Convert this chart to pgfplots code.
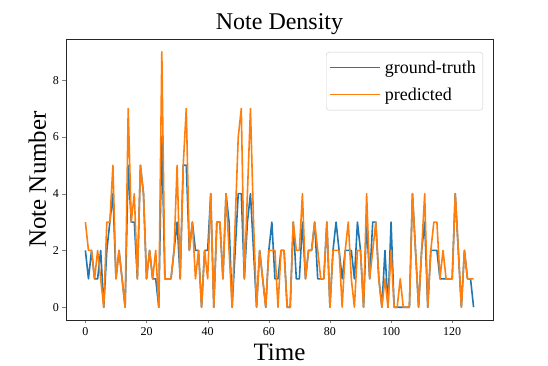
\documentclass[border=0pt]{standalone}
\usepackage{pgfplots}
\pgfplotsset{compat=1.18}
\usepackage{pgfplotstable}
\usepackage{fontspec}
\setmainfont{Liberation Serif}
\usetikzlibrary{calc}
\definecolor{mplblue}{HTML}{1F77B4}
\definecolor{mplorange}{HTML}{FF7F0E}

% note density per time step
\pgfplotstableread{
t gt pred
0 2 3
1 1 2
2 2 2
3 1 1
4 1 2
5 2 1
6 0 0
7 2 3
8 3 3
9 4 5
10 1 1
11 2 2
12 1 1
13 0 0
14 5 7
15 3 3
16 3 4
17 1 1
18 5 5
19 4 4
20 1 1
21 2 2
22 1 1
23 1 2
24 0 0
25 6 9
26 1 1
27 1 1
28 1 1
29 2 2
30 3 5
31 1 1
32 5 5
33 5 7
34 2 2
35 3 3
36 2 1
37 2 2
38 0 0
39 2 2
40 2 1
41 4 4
42 0 0
43 3 3
44 3 3
45 1 1
46 4 4
47 3 2
48 0 0
49 2 3
50 4 6
51 4 7
52 1 1
53 3 4
54 4 7
55 2 3
56 0 0
57 2 2
58 1 1
59 0 0
60 2 2
61 3 2
62 1 2
63 1 0
64 2 2
65 2 2
66 0 0
67 0 0
68 3 3
69 1 2
70 1 2
71 3 4
72 1 1
73 2 2
74 2 2
75 3 3
76 1 2
77 1 1
78 1 1
79 3 3
80 0 0
81 2 2
82 3 2
83 2 2
84 1 0
85 2 2
86 2 3
87 2 1
88 1 0
89 3 2
90 2 2
91 0 0
92 3 4
93 1 1
94 3 2
95 3 3
96 1 1
97 0 0
98 2 1
99 0 0
100 3 2
101 0 0
102 0 0
103 0 1
104 0 0
105 0 0
106 0 0
107 4 4
108 2 2
109 0 0
110 2 2
111 3 4
112 0 0
113 2 2
114 2 3
115 2 3
116 1 1
117 1 2
118 1 1
119 1 1
120 1 1
121 4 4
122 2 2
123 0 0
124 2 2
125 1 1
126 1 1
127 0 1
}\notes

\begin{document}
\begin{tikzpicture}
\begin{axis}[
    name=ax,
    scale only axis,
    width=427pt,
    height=281pt,
    xmin=-6.35, xmax=133.35,
    ymin=-0.45, ymax=9.45,
    xtick={0,20,...,120},
    ytick={0,2,...,8},
    tick pos=left,
    tick align=outside,
    major tick length=3.5pt,
    axis line style={line width=0.8pt, black!85},
    /pgf/number format/assume math mode=true,
    ticklabel style={font=\fontsize{12}{14}\selectfont},
    title={Note Density},
    title style={font=\fontsize{24}{28}\selectfont, yshift=-5pt},
    xlabel={Time},
    xlabel style={yshift=-2pt},
    ylabel={Note Number},
    label style={font=\fontsize{25}{30}\selectfont},
    legend style={at={(1,1)}, anchor=north east, xshift=-10pt, yshift=-13pt,
        draw=black!20, rounded corners=3pt, font=\fontsize{18}{21}\selectfont,
        inner xsep=3pt, inner ysep=6.5pt, row sep=9pt,
        nodes={inner xsep=4pt}},
    legend cell align=left,
    legend image code/.code={\draw[#1, line width=1.6pt] (0pt,0pt) -- (40pt,0pt);
        \path (0pt,0pt) -- (50pt,0pt);},
]
\addplot[mplblue, line width=1.6pt, line join=round] table[x=t, y=gt] {\notes};
\addlegendentry{ground-truth}
\addplot[mplorange, line width=1.6pt, line join=round] table[x=t, y=pred] {\notes};
\addlegendentry{predicted}
\end{axis}
\path[use as bounding box] ($(ax.south west)+(-66pt,-46pt)$) rectangle ($(ax.north east)+(55pt,39pt)$);
\end{tikzpicture}
\end{document}
